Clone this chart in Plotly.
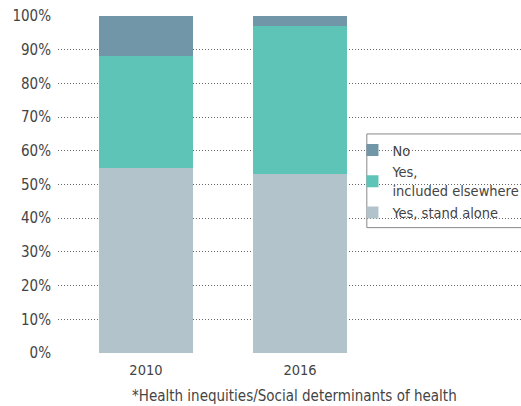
import plotly.graph_objects as go

years = ["2010", "2016"]
stand_alone = [55, 53]
included_elsewhere = [33, 44]
no = [12, 3]
y_ticks = [0, 10, 20, 30, 40, 50, 60, 70, 80, 90, 100]
y_labels = [f"{v}%" for v in y_ticks]

FONT = "DejaVu Sans Condensed, Liberation Sans Narrow, sans-serif"
TEXT = "#444444"

fig = go.Figure()
fig.add_trace(go.Bar(x=years, y=stand_alone, name="Yes, stand alone",
                     marker=dict(color="#b3c3cb", line_width=0), width=0.61))
fig.add_trace(go.Bar(x=years, y=included_elsewhere, name="Yes,<br>included elsewhere",
                     marker=dict(color="#5fc4b8", line_width=0), width=0.61))
fig.add_trace(go.Bar(x=years, y=no, name="No",
                     marker=dict(color="#7096a8", line_width=0), width=0.61))

fig.add_annotation(
    text="*Health inequities/Social determinants of health",
    xref="paper", yref="paper", x=0.51, y=-0.095, yanchor="top",
    showarrow=False, font=dict(size=15, color=TEXT, family=FONT),
)

# legend frame (legend itself is drawn without border)
fig.add_shape(type="rect", xref="paper", yref="paper",
              x0=0.667, x1=1.05, y0=0.372, y1=0.65,
              line=dict(color="#888888", width=1), fillcolor="white", layer="below")

fig.update_layout(
    barmode="stack",
    width=521, height=406,
    plot_bgcolor="white", paper_bgcolor="white",
    font=dict(family=FONT, size=16, color=TEXT),
    margin=dict(l=58, r=0, t=16, b=53, autoexpand=False),
    showlegend=True,
    legend=dict(
        traceorder="reversed",
        x=0.636, y=0.65, xanchor="left", yanchor="top",
        borderwidth=0, bgcolor="rgba(0,0,0,0)",
        font=dict(size=14.5, color=TEXT, family=FONT),
        itemwidth=30,
    ),
)
fig.update_xaxes(range=[-0.571, 2.435], showgrid=False, showline=False,
                 ticks="", tickfont=dict(size=14.5), ticklabelstandoff=6)
fig.update_yaxes(range=[0, 100], tickmode="array", tickvals=y_ticks, ticktext=y_labels,
                 showgrid=True, gridcolor="#666666", griddash="1px,2px", gridwidth=1,
                 zeroline=False, showline=False, ticks="",
                 tickfont=dict(size=15), ticklabelstandoff=6)

fig.write_html("out.html", config={"displayModeBar": False},
               post_script="document.body.style.margin='0';")
